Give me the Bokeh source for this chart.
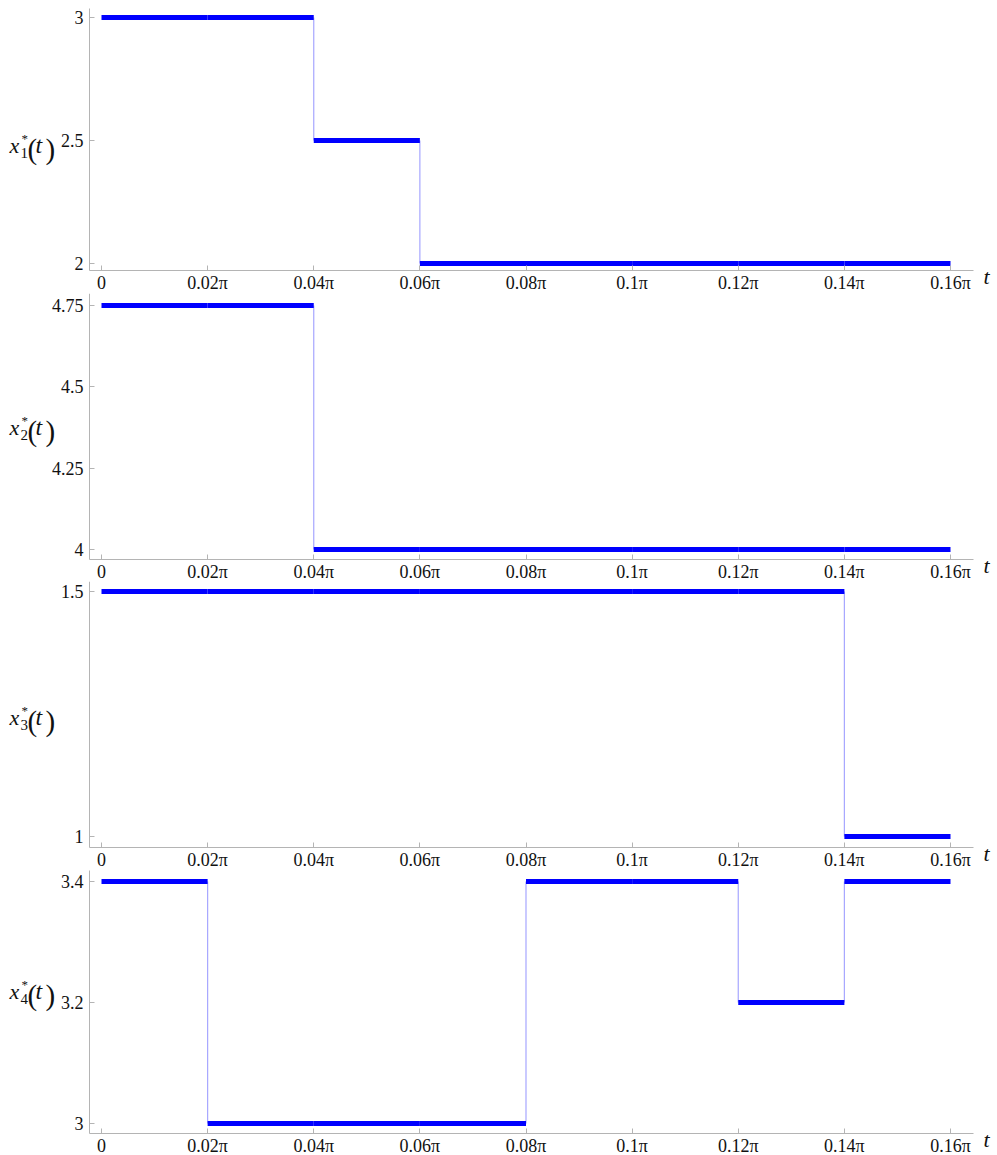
import numpy as np
from bokeh.plotting import figure
from bokeh.layouts import column
from bokeh.models import Range1d, FixedTicker
from bokeh.core.properties import value
from bokeh.embed import file_html
from bokeh.resources import INLINE

# ---- data (t in units of pi) ----
t_breaks = [0.0, 0.02, 0.04, 0.06, 0.08, 0.10, 0.12, 0.14, 0.16]
t_tick_labels = ["0", "0.02π", "0.04π", "0.06π", "0.08π", "0.1π", "0.12π", "0.14π", "0.16π"]

x1_vals = [3, 3, 2.5, 2, 2, 2, 2, 2]
x2_vals = [4.75, 4.75, 4, 4, 4, 4, 4, 4]
x3_vals = [1.5, 1.5, 1.5, 1.5, 1.5, 1.5, 1.5, 1]
x4_vals = [3.4, 3, 3, 3, 3.4, 3.4, 3.2, 3.4]

x1_ticks = [2, 2.5, 3]
x1_tick_labels = ["2", "2.5", "3"]
x2_ticks = [4, 4.25, 4.5, 4.75]
x2_tick_labels = ["4", "4.25", "4.5", "4.75"]
x3_ticks = [1, 1.5]
x3_tick_labels = ["1", "1.5"]
x4_ticks = [3, 3.2, 3.4]
x4_tick_labels = ["3", "3.2", "3.4"]

subscripts = ["1", "2", "3", "4"]

# ---- styling / layout (pixel geometry only) ----
SERIF = "Liberation Serif"
AXIS_COLOR = "#b4b4b4"
TXT = "#111111"
W = 995
PX_T0, PX_PER_UNIT = 101, 849 / 0.16      # horizontal pixel mapping
AX_LEFT, AX_RIGHT = 89, 973                # y-axis position / x-axis end

# row top, row height, (hi tick px, lo tick px), frame top, frame bottom, label centre
geoms = [
    (0, 293, (17, 263), 8, 270, 140),
    (293, 288, (305, 549), 293, 559, 422),
    (581, 288, (591, 836), 578, 847, 712),
    (869, 285, (881, 1123), 870, 1133, 986),
]


def xd(px):
    return (px - PX_T0) / PX_PER_UNIT


def make_row(vals, yticks, ylabels, geom, sub):
    R, H, (s_hi, s_lo), FT, FB, LC = geom
    v_lo, v_hi = min(yticks), max(yticks)
    k = (s_lo - s_hi) / (v_hi - v_lo)

    def yd(s):
        return v_lo + (s_lo - s) / k

    p = figure(width=W, height=H,
               x_range=Range1d(xd(0), xd(W)), y_range=Range1d(yd(R + H), yd(R)),
               output_backend="svg", toolbar_location=None,
               min_border=0, min_border_left=0, min_border_right=0,
               min_border_top=0, min_border_bottom=0,
               background_fill_color="white", border_fill_color="white")
    p.outline_line_color = None
    p.grid.visible = False

    t = np.array(t_breaks)
    v = np.array(vals, dtype=float)
    idx = [i for i in range(len(v) - 1) if v[i] != v[i + 1]]
    if idx:
        nxt = [i + 1 for i in idx]
        p.segment(x0=t[nxt], y0=v[idx], x1=t[nxt], y1=v[nxt],
                  line_color="#a6a6ff", line_width=1.2)
    p.segment(x0=t[:-1], y0=v, x1=t[1:], y1=v,
              line_color="#0000ff", line_width=5, line_cap="butt")

    for ax in (p.xaxis[0], p.yaxis[0]):
        ax.axis_line_color = AXIS_COLOR
        ax.major_tick_line_color = AXIS_COLOR
        ax.minor_tick_line_color = None
        ax.major_tick_in = 5
        ax.major_tick_out = 0
        ax.major_label_text_font = SERIF
        ax.major_label_text_font_size = "18px"
        ax.major_label_text_color = TXT

    p.xaxis.fixed_location = yd(FB)
    p.xaxis.bounds = (xd(AX_LEFT), xd(AX_RIGHT))
    p.xaxis.ticker = FixedTicker(ticks=list(t_breaks))
    p.xaxis.major_label_overrides = {tb: lab for tb, lab in zip(t_breaks, t_tick_labels)}
    p.xaxis.major_label_standoff = 2

    p.yaxis.fixed_location = xd(AX_LEFT)
    p.yaxis.bounds = (yd(FB), yd(max(FT, R)))
    p.yaxis.ticker = FixedTicker(ticks=list(yticks))
    p.yaxis.major_label_overrides = {tk: lab for tk, lab in zip(yticks, ylabels)}
    p.yaxis.major_label_standoff = 6

    # y label  x_i^*(t)
    pieces = [
        ("x", 9, 4.5, "22px", "italic"),
        (sub, 20, 12.5, "15px", "normal"),
        ("*", 21, -2.5, "13px", "normal"),
        ("(", 27, 8, "29px", "normal"),
        ("t", 35, 4.5, "24px", "italic"),
        (")", 45, 8, "29px", "normal"),
    ]
    for txt, xl, dy, fs, st in pieces:
        p.text(x=[xd(xl)], y=[yd(LC + dy)], text=[txt],
               text_font=value(SERIF), text_font_size=fs, text_font_style=st,
               text_color=TXT, text_align="left", text_baseline="alphabetic")

    # x label  t
    p.text(x=[xd(983)], y=[yd(FB + 6)], text=["t"],
           text_font=value(SERIF), text_font_size="22px", text_font_style="italic",
           text_color=TXT, text_align="left", text_baseline="alphabetic")
    return p


figs = [
    make_row(x1_vals, x1_ticks, x1_tick_labels, geoms[0], subscripts[0]),
    make_row(x2_vals, x2_ticks, x2_tick_labels, geoms[1], subscripts[1]),
    make_row(x3_vals, x3_ticks, x3_tick_labels, geoms[2], subscripts[2]),
    make_row(x4_vals, x4_ticks, x4_tick_labels, geoms[3], subscripts[3]),
]
layout = column(*figs, spacing=0)

open("out.html", "w").write(file_html(layout, INLINE))
